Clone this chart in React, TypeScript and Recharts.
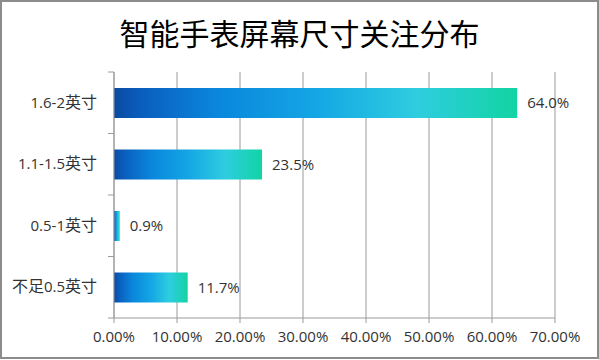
import { BarChart, Bar, XAxis, YAxis, CartesianGrid, LabelList } from "recharts";

const TITLE = "智能手表屏幕尺寸关注分布";
const categories = ["1.6-2英寸", "1.1-1.5英寸", "0.5-1英寸", "不足0.5英寸"];
const shares = [64.0, 23.5, 0.9, 11.7];
const xTicks = [0, 10, 20, 30, 40, 50, 60, 70];

const FONT = "'Open Sans', 'Noto Sans CJK SC', sans-serif";
const AXIS_GRAY = "#9a9a9a";

const data = categories.map((name, i) => ({ name, value: shares[i] }));

// category label plus a small tick at the band boundary, like Excel does
const CategoryTick = (props: any) => {
  const { x, y, payload, index } = props;
  const half = payload && payload.offset ? payload.offset : 0;
  // latin runs a bit smaller than the CJK ones, as in the source
  const runs = String(payload.value).split(/([\u4e00-\u9fff]+)/).filter(Boolean);
  return (
    <g>
      <text x={x - 17} y={y} dy={5} textAnchor="end" fill="#333" fontFamily={FONT}>
        {runs.map((r, i) => (
          <tspan key={i} fontSize={/[\u4e00-\u9fff]/.test(r) ? 16 : 15}>
            {r}
          </tspan>
        ))}
      </text>
      {index === 0 && half > 0 && (
        <line x1={x - 6} x2={x} y1={y - half} y2={y - half} stroke={AXIS_GRAY} />
      )}
      {half > 0 && <line x1={x - 6} x2={x} y1={y + half} y2={y + half} stroke={AXIS_GRAY} />}
    </g>
  );
};

export default function App() {
  return (
    <div style={{ position: "absolute", left: 0, top: 0, width: 599, height: 360, background: "#fff" }}>
      <div
        style={{
          position: "absolute",
          left: 0,
          top: 12,
          width: 599,
          textAlign: "center",
          fontFamily: "'Noto Sans CJK SC', sans-serif",
          fontSize: 30,
          fontWeight: 400,
          color: "#000",
          lineHeight: "40px",
        }}
      >
        {TITLE}
      </div>
      <BarChart
        width={599}
        height={360}
        data={data}
        layout="vertical"
        margin={{ top: 72, right: 44, bottom: 12, left: 0 }}
        barCategoryGap="26%"
      >
        <defs>
          <linearGradient id="barGrad" x1="0" y1="0" x2="1" y2="0">
            <stop offset="0%" stopColor="#0a4aa0" />
            <stop offset="6%" stopColor="#0a5cbc" />
            <stop offset="25%" stopColor="#0a86dc" />
            <stop offset="50%" stopColor="#14a6e4" />
            <stop offset="75%" stopColor="#2ecde0" />
            <stop offset="100%" stopColor="#12d4a2" />
          </linearGradient>
        </defs>
        <CartesianGrid horizontal={false} stroke={AXIS_GRAY} strokeDasharray="" />
        <XAxis
          type="number"
          domain={[0, 70]}
          ticks={xTicks}
          interval={0}
          height={30}
          tickFormatter={(v: number) => `${v.toFixed(2)}%`}
          tick={{ fontSize: 15, fill: "#333", fontFamily: FONT }}
          tickSize={5}
          tickMargin={8}
          stroke={AXIS_GRAY}
        />
        <YAxis
          type="category"
          dataKey="name"
          width={114}
          tick={<CategoryTick />}
          tickLine={false}
          tickSize={0}
          tickMargin={0}
          stroke={AXIS_GRAY}
        />
        <Bar dataKey="value" fill="url(#barGrad)" isAnimationActive={false}>
          <LabelList
            dataKey="value"
            position="right"
            offset={10}
            formatter={(v: any) => `${Number(v).toFixed(1)}%`}
            style={{ fontSize: 15, fill: "#333", fontFamily: FONT }}
          />
        </Bar>
      </BarChart>
      <div
        style={{
          position: "absolute",
          left: 0,
          top: 0,
          width: 599,
          height: 359,
          boxSizing: "border-box",
          border: "2px solid #8c8c8c",
          pointerEvents: "none",
        }}
      />
    </div>
  );
}
